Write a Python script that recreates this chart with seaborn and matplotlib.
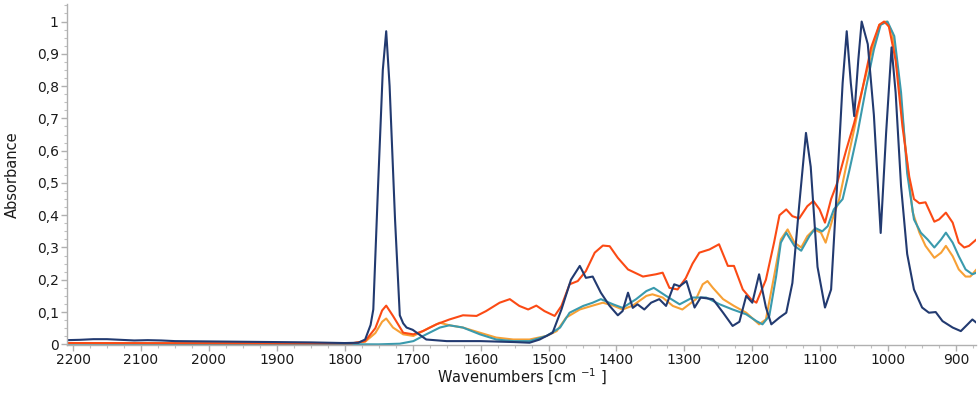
import matplotlib
matplotlib.use("Agg")
import matplotlib.pyplot as plt
import seaborn as sns
import pandas as pd
from matplotlib.ticker import MultipleLocator, FuncFormatter

# ---------------- data ----------------
navy_wn = [2209, 2190, 2170, 2150, 2130, 2110, 2090, 2070, 2050, 2000, 1950, 1900, 1850, 1800, 1780,
           1770, 1762, 1758, 1751, 1744, 1739, 1734, 1726, 1719, 1714, 1709, 1700, 1690, 1680, 1650,
           1600, 1550, 1528, 1513, 1494, 1481, 1467, 1454, 1445, 1435, 1423, 1410, 1398, 1391, 1383,
           1376, 1369, 1359, 1349, 1337, 1327, 1315, 1307, 1297, 1285, 1276, 1258, 1243, 1229, 1219,
           1209, 1200, 1190, 1180, 1172, 1160, 1150, 1141, 1131, 1121, 1114, 1104, 1093, 1084, 1075,
           1067, 1061, 1055, 1050, 1044, 1039, 1030, 1021, 1011, 1003, 995, 989, 981, 972, 962,
           950, 940, 930, 920, 905, 893, 883, 876, 870]
navy_abs = [0.013, 0.014, 0.016, 0.016, 0.014, 0.012, 0.013, 0.012, 0.010, 0.009, 0.008, 0.007, 0.006, 0.004, 0.005,
            0.015, 0.06, 0.108, 0.49, 0.85, 0.97, 0.80, 0.387, 0.09, 0.065, 0.052, 0.045, 0.03, 0.015, 0.01,
            0.01, 0.007, 0.005, 0.015, 0.036, 0.108, 0.20, 0.243, 0.206, 0.21, 0.16, 0.119, 0.09, 0.103, 0.16,
            0.113, 0.124, 0.108, 0.129, 0.14, 0.119, 0.186, 0.18, 0.196, 0.114, 0.145, 0.14, 0.098, 0.057, 0.07,
            0.15, 0.129, 0.217, 0.115, 0.062, 0.083, 0.098, 0.19, 0.43, 0.655, 0.55, 0.24, 0.114, 0.17, 0.50,
            0.81, 0.97, 0.81, 0.707, 0.88, 1.0, 0.93, 0.71, 0.345, 0.655, 0.92, 0.78, 0.49, 0.28, 0.17,
            0.114, 0.098, 0.10, 0.072, 0.052, 0.041, 0.062, 0.077, 0.067]

red_wn = [2209, 1900, 1790, 1770, 1755, 1745, 1739, 1729, 1714, 1699, 1685, 1665, 1646, 1626, 1606,
          1592, 1572, 1557, 1543, 1530, 1518, 1506, 1491, 1481, 1469, 1457, 1445, 1432, 1420, 1410,
          1398, 1383, 1361, 1342, 1332, 1322, 1310, 1298, 1288, 1278, 1263, 1249, 1236, 1227, 1214,
          1202, 1194, 1180, 1168, 1160, 1150, 1141, 1131, 1119, 1110, 1101, 1093, 1084, 1075, 1062,
          1050, 1038, 1025, 1013, 1006, 999, 989, 979, 969, 962, 954, 945, 932, 925, 915,
          905, 896, 888, 881, 870]
red_abs = [0.004, 0.003, 0.003, 0.01, 0.05, 0.105, 0.12, 0.088, 0.036, 0.031, 0.041, 0.062, 0.077, 0.09, 0.088,
           0.103, 0.129, 0.14, 0.119, 0.108, 0.12, 0.103, 0.088, 0.119, 0.186, 0.196, 0.227, 0.284, 0.306, 0.304,
           0.268, 0.232, 0.21, 0.217, 0.222, 0.175, 0.17, 0.205, 0.25, 0.284, 0.294, 0.31, 0.243, 0.243, 0.17,
           0.14, 0.129, 0.2, 0.315, 0.40, 0.418, 0.397, 0.39, 0.428, 0.444, 0.418, 0.377, 0.45, 0.50, 0.60,
           0.686, 0.79, 0.92, 0.99, 1.0, 0.985, 0.88, 0.676, 0.52, 0.45, 0.437, 0.44, 0.38, 0.387, 0.408,
           0.377, 0.315, 0.30, 0.305, 0.325]

orange_wn = [2209, 1790, 1770, 1755, 1745, 1739, 1729, 1714, 1699, 1685, 1675, 1660, 1646, 1626, 1601,
             1577, 1552, 1528, 1503, 1488, 1474, 1454, 1435, 1420, 1405, 1391, 1376, 1356, 1347, 1332,
             1317, 1303, 1283, 1273, 1266, 1258, 1243, 1227, 1209, 1190, 1180, 1168, 1158, 1148, 1138,
             1128, 1119, 1109, 1099, 1092, 1082, 1072, 1062, 1050, 1038, 1025, 1013, 1003, 994, 984,
             974, 964, 954, 945, 932, 922, 915, 905, 896, 886, 879, 870]
orange_abs = [0.004, 0.003, 0.008, 0.035, 0.07, 0.080, 0.052, 0.031, 0.026, 0.041, 0.052, 0.067, 0.059, 0.052, 0.036,
              0.021, 0.015, 0.015, 0.026, 0.041, 0.083, 0.108, 0.12, 0.129, 0.12, 0.108, 0.12, 0.15, 0.155, 0.145,
              0.119, 0.108, 0.14, 0.186, 0.196, 0.175, 0.14, 0.119, 0.098, 0.062, 0.077, 0.21, 0.325, 0.356, 0.315,
              0.30, 0.335, 0.356, 0.346, 0.315, 0.387, 0.45, 0.55, 0.666, 0.79, 0.90, 0.99, 1.0, 0.965, 0.81,
              0.60, 0.41, 0.346, 0.305, 0.268, 0.284, 0.305, 0.273, 0.232, 0.21, 0.21, 0.232]

teal_wn = [2209, 1750, 1719, 1699, 1680, 1660, 1646, 1626, 1601, 1577, 1552, 1528, 1503, 1483, 1469,
           1449, 1435, 1423, 1405, 1391, 1371, 1356, 1345, 1327, 1307, 1288, 1268, 1248, 1229, 1209,
           1194, 1185, 1175, 1165, 1158, 1150, 1138, 1128, 1116, 1107, 1097, 1089, 1080, 1067, 1057,
           1045, 1033, 1021, 1011, 1001, 991, 981, 972, 962, 952, 942, 932, 922, 915, 905,
           896, 886, 876, 870]
teal_abs = [0.002, 0.0, 0.002, 0.01, 0.031, 0.052, 0.059, 0.052, 0.031, 0.015, 0.01, 0.01, 0.026, 0.052, 0.098,
            0.119, 0.129, 0.14, 0.124, 0.113, 0.14, 0.165, 0.175, 0.15, 0.124, 0.145, 0.145, 0.124, 0.108, 0.093,
            0.072, 0.062, 0.088, 0.21, 0.315, 0.346, 0.305, 0.29, 0.335, 0.36, 0.35, 0.366, 0.418, 0.45, 0.54,
            0.655, 0.79, 0.913, 0.99, 1.0, 0.955, 0.78, 0.53, 0.387, 0.346, 0.325, 0.30, 0.325, 0.346, 0.315,
            0.273, 0.232, 0.217, 0.222]

x_ticks = [2200, 2100, 2000, 1900, 1800, 1700, 1600, 1500, 1400, 1300, 1200, 1100, 1000, 900]
y_ticks = [0, 0.1, 0.2, 0.3, 0.4, 0.5, 0.6, 0.7, 0.8, 0.9, 1.0]

series = ["orange", "teal", "red", "navy"]
colors = {"orange": "#f7a035", "teal": "#3a9aad", "red": "#fb4a14", "navy": "#223a70"}

frames = []
for name, wn, ab in [("orange", orange_wn, orange_abs), ("teal", teal_wn, teal_abs),
                     ("red", red_wn, red_abs), ("navy", navy_wn, navy_abs)]:
    frames.append(pd.DataFrame({"wn": wn, "abs": ab, "s": name}))
df = pd.concat(frames, ignore_index=True)

# ---------------- figure ----------------
sns.set_style("white")
plt.rcParams["font.family"] = ["DejaVu Sans"]

fig = plt.figure(figsize=(9.79, 3.94), dpi=100)
ax = fig.add_axes([0.0684, 0.1244, 0.929, 0.866])

sns.lineplot(data=df, x="wn", y="abs", hue="s", hue_order=series, palette=colors,
             estimator=None, sort=False, legend=False, linewidth=1.5, ax=ax)

ax.set_xlim(2209, 870)
ax.set_ylim(-0.002, 1.055)

ax.set_xticks(x_ticks)
ax.set_xticklabels([str(t) for t in x_ticks])
ax.xaxis.set_minor_locator(MultipleLocator(25))
ax.set_yticks(y_ticks)
ax.yaxis.set_major_formatter(FuncFormatter(lambda v, p: f"{round(v, 2):g}".replace(".", ",")))
ax.yaxis.set_minor_locator(MultipleLocator(0.025))

for side in ["top", "right"]:
    ax.spines[side].set_visible(False)
for side in ["left", "bottom"]:
    ax.spines[side].set_color("#b0b0b0")
    ax.spines[side].set_linewidth(1.0)

ax.tick_params(axis="both", which="major", direction="out", length=4, width=1,
               color="#b0b0b0", labelsize=10, labelcolor="#1a1a1a", pad=2)
ax.tick_params(axis="both", which="minor", direction="out", length=2.5, width=0.8, color="#c0c0c0")
ax.tick_params(axis="x", which="both", bottom=True)
ax.tick_params(axis="y", which="both", left=True)

ax.set_xlabel("Wavenumbers [cm $^{-1}$ ]", fontsize=10.5, color="#1a1a1a", labelpad=0)
ax.set_ylabel("Absorbance", fontsize=10.5, color="#1a1a1a", labelpad=12)

fig.savefig("out.png", dpi=100)
